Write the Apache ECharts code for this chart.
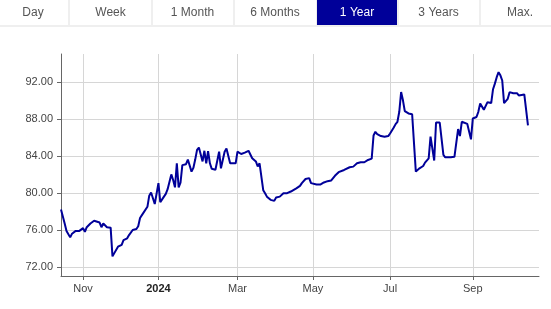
<!DOCTYPE html>
<html>
<head>
<meta charset="utf-8">
<script src="https://cdn.jsdelivr.net/npm/echarts@6/dist/echarts.min.js"></script>
<style>
html,body{margin:0;padding:0;background:#fff;}
#chart{width:551px;height:309px;}
</style>
</head>
<body>
<div id="chart"></div>
<script>
// ---- data ----
var rangeButtons = ['Day', 'Week', '1 Month', '6 Months', '1 Year', '3 Years', 'Max.'];
var activeButton = '1 Year';
var axisStart = '2023-10-16';
var axisEnd = '2024-10-22';
var holidays = ['2023-12-25', '2023-12-26', '2024-01-01', '2024-03-29', '2024-04-01', '2024-05-01'];
var monthNames = ['Jan','Feb','Mar','Apr','May','Jun','Jul','Aug','Sep','Oct','Nov','Dec'];
var yTicks = [72, 76, 80, 84, 88, 92];

var dates = [
 '2023-10-16','2023-10-18','2023-10-19','2023-10-23','2023-10-24','2023-10-26','2023-10-27','2023-10-30',
 '2023-11-01','2023-11-02','2023-11-03','2023-11-06','2023-11-07','2023-11-09','2023-11-10','2023-11-14',
 '2023-11-15','2023-11-16','2023-11-17','2023-11-20','2023-11-22','2023-11-23','2023-11-24','2023-11-27',
 '2023-11-28','2023-11-30','2023-12-01','2023-12-05','2023-12-06','2023-12-08','2023-12-11','2023-12-12',
 '2023-12-13','2023-12-14','2023-12-15','2023-12-18','2023-12-20','2023-12-21','2023-12-22','2023-12-27',
 '2023-12-28','2023-12-29','2024-01-02','2024-01-03','2024-01-04','2024-01-08','2024-01-09','2024-01-10',
 '2024-01-11','2024-01-12','2024-01-15','2024-01-16','2024-01-17','2024-01-18','2024-01-19','2024-01-22',
 '2024-01-23','2024-01-24','2024-01-25','2024-01-26','2024-01-29','2024-01-30','2024-01-31','2024-02-01',
 '2024-02-02','2024-02-05','2024-02-06','2024-02-07','2024-02-08','2024-02-09','2024-02-12','2024-02-14',
 '2024-02-15','2024-02-16','2024-02-19','2024-02-20','2024-02-21','2024-02-22','2024-02-23','2024-02-26',
 '2024-02-29','2024-03-01','2024-03-05','2024-03-07','2024-03-11','2024-03-12','2024-03-13','2024-03-15',
 '2024-03-18','2024-03-19','2024-03-20','2024-03-21','2024-03-22','2024-03-25','2024-03-27','2024-04-02',
 '2024-04-03','2024-04-05','2024-04-09','2024-04-11','2024-04-15','2024-04-16','2024-04-18','2024-04-22',
 '2024-04-23','2024-04-25','2024-04-29','2024-04-30','2024-05-06','2024-05-08','2024-05-10','2024-05-14',
 '2024-05-16','2024-05-20','2024-05-22','2024-05-23','2024-05-27','2024-05-28','2024-05-30','2024-06-03',
 '2024-06-04','2024-06-05','2024-06-07','2024-06-11','2024-06-13','2024-06-14','2024-06-17','2024-06-18',
 '2024-06-19','2024-06-20','2024-06-24','2024-06-26','2024-06-28','2024-07-01','2024-07-03','2024-07-04',
 '2024-07-05','2024-07-08','2024-07-09','2024-07-10','2024-07-11','2024-07-15','2024-07-16','2024-07-17',
 '2024-07-19','2024-07-23','2024-07-25','2024-07-26','2024-07-30','2024-07-31','2024-08-01','2024-08-02',
 '2024-08-05','2024-08-06','2024-08-07','2024-08-08','2024-08-09','2024-08-12','2024-08-13','2024-08-15',
 '2024-08-19','2024-08-21','2024-08-22','2024-08-23','2024-08-26','2024-08-28','2024-08-29','2024-08-30',
 '2024-09-02','2024-09-04','2024-09-05','2024-09-06','2024-09-09','2024-09-10','2024-09-12','2024-09-13',
 '2024-09-16','2024-09-17','2024-09-18','2024-09-19','2024-09-20','2024-09-23','2024-09-24','2024-09-25',
 '2024-09-27','2024-09-30','2024-10-02','2024-10-03','2024-10-04','2024-10-07','2024-10-08','2024-10-10',
 '2024-10-11','2024-10-14'
];
var prices = [
 78.2, 76.7, 75.9, 75.2, 75.6, 75.9, 75.7, 75.9,
 76.2, 75.8, 76.3, 76.5, 76.7, 77.0, 76.95, 76.8,
 76.3, 76.7, 76.55, 76.3, 76.25, 73.15, 73.5, 73.65,
 74.2, 74.4, 74.9, 75.1, 75.45, 76.0, 76.2, 76.1,
 76.4, 77.3, 77.6, 77.8, 78.5, 79.7, 80.05, 79.9,
 78.8, 78.9, 81.05, 79.0, 79.3, 79.9, 80.4, 80.4,
 82.0, 81.4, 80.6, 83.2, 80.6, 81.1, 83.0, 83.2,
 83.1, 83.6, 83.75, 82.3, 82.7, 83.6, 84.65, 84.9,
 84.8, 83.4, 84.55, 83.2, 84.5, 83.2, 82.6, 82.5,
 82.55, 84.45, 82.66, 82.66, 84.45, 84.8, 84.6, 83.2,
 83.2, 84.45, 84.2, 84.35, 84.55, 84.35, 83.75, 83.4,
 82.85, 83.2, 83.0, 80.3, 79.97, 79.6, 79.25, 79.14,
 79.5, 79.6, 79.97, 79.97, 80.15, 80.04, 80.5, 80.76,
 81.06, 81.5, 81.6, 81.06, 80.9, 80.9, 81.13, 81.27,
 81.35, 81.85, 82.24, 82.28, 82.48, 82.66, 82.77, 82.84,
 83.02, 83.2, 83.31, 83.31, 83.56, 83.56, 83.7, 86.2,
 86.6, 86.35, 86.14, 86.07, 86.14, 86.42, 87.07, 87.43,
 87.68, 88.76, 90.9, 90.0, 88.84, 88.58, 88.48, 88.5,
 82.3, 82.66, 82.91, 83.27, 83.74, 86.07, 86.07, 83.5,
 87.6, 87.6, 87.6, 87.6, 84.1, 83.85, 83.9, 83.85,
 83.9, 86.9, 86.14, 87.68, 87.5, 87.45, 87.6, 85.78,
 88.04, 88.2, 88.76, 89.66, 89.7, 88.98, 89.8, 89.9,
 89.7, 91.2, 91.8, 92.5, 93.04, 92.7, 92.14, 89.7,
 90.16, 90.88, 90.77, 90.63, 90.77, 90.52, 90.52, 90.63,
 90.6, 87.3
];

// ---- trading-day categories (weekdays minus exchange holidays) ----
function ymd(d) {
  var m = d.getUTCMonth() + 1, day = d.getUTCDate();
  return d.getUTCFullYear() + '-' + (m < 10 ? '0' : '') + m + '-' + (day < 10 ? '0' : '') + day;
}
var categories = [];
(function () {
  var d = new Date(axisStart + 'T00:00:00Z');
  var end = new Date(axisEnd + 'T00:00:00Z');
  while (d <= end) {
    var wd = d.getUTCDay();
    var s = ymd(d);
    if (wd !== 0 && wd !== 6 && holidays.indexOf(s) < 0) categories.push(s);
    d = new Date(d.getTime() + 86400000);
  }
})();

function isMonthMark(index) {
  if (index === 0) return false;
  var m = +categories[index].slice(5, 7) - 1;
  var pm = +categories[index - 1].slice(5, 7) - 1;
  return m !== pm && m % 2 === 0;
}

var seriesData = dates.map(function (d, i) { return [d, prices[i]]; });

// ---- button bar ----
var btnEdges = [[0, 68], [70, 151], [153, 233], [235, 316], [317, 397], [399, 479], [481, 551]];
var btnCenters = [33, 110.5, 192.5, 275, 357, 438.5, 520];
var graphics = [];
graphics.push({ type: 'rect', shape: { x: 0, y: 0, width: 551, height: 27 }, style: { fill: '#efefef' }, silent: true });
rangeButtons.forEach(function (b, i) {
  var active = b === activeButton;
  graphics.push({
    type: 'rect',
    shape: { x: btnEdges[i][0], y: 0, width: btnEdges[i][1] - btnEdges[i][0], height: 25 },
    style: { fill: active ? '#000099' : '#ffffff' }, silent: true
  });
  graphics.push({
    type: 'text', x: btnCenters[i], y: 12.5,
    style: { text: b, fill: active ? '#ffffff' : '#555555', font: '12px "Liberation Sans", Arial, sans-serif',
             align: 'center', verticalAlign: 'middle' }, silent: true
  });
});

var chart = echarts.init(document.getElementById('chart'), null, { renderer: 'canvas' });
chart.setOption({
  animation: false,
  backgroundColor: '#ffffff',
  textStyle: { fontFamily: '"Liberation Sans", Arial, sans-serif' },
  graphic: graphics,
  grid: { left: 61, right: 12, top: 54, bottom: 33, containLabel: false },
  xAxis: {
    type: 'category',
    data: categories,
    boundaryGap: false,
    axisLine: { lineStyle: { color: '#666666', width: 1 } },
    axisTick: { show: true, interval: function (i) { return isMonthMark(i); }, length: 4, lineStyle: { color: '#666666' } },
    axisLabel: {
      interval: function (i) { return isMonthMark(i); },
      margin: 7,
      fontSize: 11,
      color: '#444444',
      formatter: function (v) {
        var m = +v.slice(5, 7) - 1;
        if (m === 0) return '{y|' + v.slice(0, 4) + '}';
        return monthNames[m];
      },
      rich: { y: { fontWeight: 'bold', color: '#222222', fontSize: 11 } }
    },
    splitLine: { show: true, interval: function (i) { return isMonthMark(i); }, lineStyle: { color: '#d6d6d6', width: 1 } }
  },
  yAxis: {
    type: 'value',
    min: 71.03,
    max: 95,
    axisLine: { show: true, lineStyle: { color: '#666666', width: 1 } },
    axisTick: { show: true, length: 4, customValues: yTicks, lineStyle: { color: '#666666' } },
    axisLabel: {
      customValues: yTicks, margin: 8, fontSize: 11, color: '#444444',
      formatter: function (v) { return v.toFixed(2); }
    },
    splitLine: { show: true, lineStyle: { color: '#d6d6d6', width: 1 } }
  },
  series: [{
    type: 'line',
    data: seriesData,
    showSymbol: false,
    symbol: 'none',
    lineStyle: { color: '#000099', width: 2 },
    itemStyle: { color: '#000099' },
    z: 5
  }]
});
</script>
</body>
</html>
